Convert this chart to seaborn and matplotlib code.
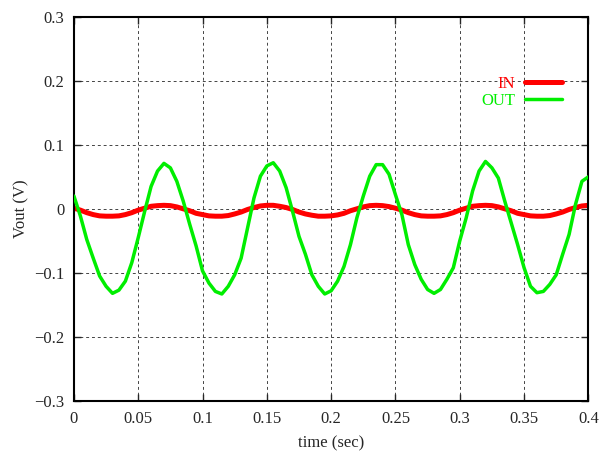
import matplotlib
matplotlib.use("Agg")
import matplotlib.pyplot as plt
import matplotlib.ticker as mticker
import numpy as np
import pandas as pd
import seaborn as sns

# values, one sample every 5 ms
time = [i * 0.005 for i in range(81)]

vin = [0.001, -0.002, -0.006, -0.009, -0.011, -0.0115, -0.0115, -0.011, -0.009, -0.006,
       -0.002, 0.001, 0.004, 0.005, 0.0055, 0.005, 0.003, 0.000, -0.003, -0.007,
       -0.009, -0.011, -0.0115, -0.0115, -0.0105, -0.008, -0.005, -0.001, 0.002, 0.0045,
       0.0055, 0.0055, 0.004, 0.002, -0.001, -0.005, -0.008, -0.010, -0.0115, -0.0115,
       -0.011, -0.0095, -0.007, -0.003, 0.000, 0.003, 0.005, 0.0055, 0.005, 0.0035,
       0.001, -0.002, -0.006, -0.009, -0.011, -0.0115, -0.0115, -0.011, -0.009, -0.006,
       -0.002, 0.001, 0.004, 0.005, 0.0055, 0.005, 0.003, 0.000, -0.003, -0.007,
       -0.009, -0.011, -0.0115, -0.0115, -0.0105, -0.008, -0.005, -0.001, 0.002, 0.0045,
       0.0055]

vout = [0.020, -0.011, -0.048, -0.077, -0.105, -0.121, -0.132, -0.127, -0.113, -0.084,
        -0.045, -0.004, 0.035, 0.059, 0.071, 0.064, 0.043, 0.012, -0.024, -0.058,
        -0.097, -0.116, -0.129, -0.133, -0.121, -0.103, -0.077, -0.030, 0.017, 0.051,
        0.067, 0.072, 0.059, 0.033, -0.004, -0.043, -0.071, -0.103, -0.121, -0.133,
        -0.128, -0.113, -0.090, -0.056, -0.014, 0.020, 0.051, 0.069, 0.069, 0.054,
        0.022, -0.009, -0.056, -0.087, -0.110, -0.126, -0.132, -0.126, -0.110, -0.092,
        -0.050, -0.014, 0.028, 0.059, 0.074, 0.064, 0.048, 0.012, -0.022, -0.056,
        -0.092, -0.121, -0.131, -0.129, -0.118, -0.103, -0.071, -0.040, 0.007, 0.043,
        0.050]

df = pd.concat([
    pd.DataFrame({"t": time, "v": vin, "sig": "IN"}),
    pd.DataFrame({"t": time, "v": vout, "sig": "OUT"}),
])

sns.set_style("ticks")
plt.rcParams['font.family'] = ['Liberation Serif', 'DejaVu Serif']
plt.rcParams['xtick.direction'] = 'in'
plt.rcParams['ytick.direction'] = 'in'
plt.rcParams['xtick.top'] = True
plt.rcParams['ytick.right'] = True

fig = plt.figure(figsize=(6.01, 4.53), dpi=100)
ax = fig.add_axes([0.123, 0.115, 0.856, 0.848])

ax.grid(True, color='#444444', linestyle=(0, (3, 3)), linewidth=0.7)
ax.set_axisbelow(True)

sns.lineplot(data=df, x="t", y="v", hue="sig", palette={"IN": "#ff0000", "OUT": "#00ee00"},
             ax=ax, legend=False, estimator=None, sort=False)
ax.lines[0].set_linewidth(3.6)
ax.lines[1].set_linewidth(2.5)
ax.lines[1].set_zorder(3)

ax.set_xlim(0, 0.4)
ax.set_ylim(-0.3, 0.3)
ax.xaxis.set_major_locator(mticker.MultipleLocator(0.05))
ax.yaxis.set_major_locator(mticker.MultipleLocator(0.1))
fmt = mticker.FuncFormatter(lambda v, p: ('%g' % round(v, 3)).replace('-', '\u2212'))
ax.xaxis.set_major_formatter(fmt)
ax.yaxis.set_major_formatter(fmt)
ax.tick_params(labelsize=12, length=5, width=1, pad=7)

for s in ax.spines.values():
    s.set_linewidth(1.5)
    s.set_color('black')

ax.set_xlabel("time (sec)", fontsize=12, labelpad=6)
ax.set_ylabel("Vout (V)", fontsize=12, labelpad=3)

leg = ax.legend(handles=ax.lines[:2], labels=["IN", "OUT"], loc='upper right',
                bbox_to_anchor=(0.961, 0.864), frameon=False, markerfirst=False,
                labelcolor='linecolor', fontsize=12, handlelength=2.2,
                handletextpad=0.6, labelspacing=0.05, borderaxespad=0)

fig.savefig("out.png", dpi=100)
